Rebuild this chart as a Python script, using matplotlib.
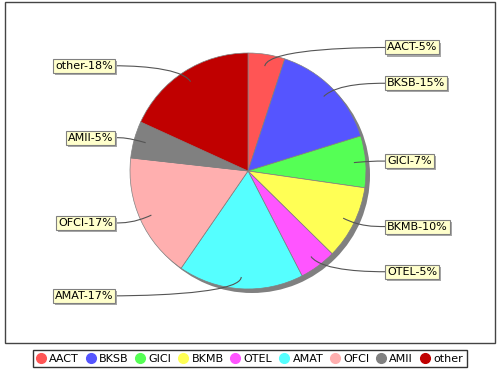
import numpy as np
import matplotlib.pyplot as plt
import matplotlib.patheffects as pe
from matplotlib.path import Path
from matplotlib.patches import PathPatch, Rectangle
from matplotlib.lines import Line2D

names = ["AACT", "BKSB", "GICI", "BKMB", "OTEL", "AMAT", "OFCI", "AMII", "other"]
shares = [5, 15, 7, 10, 5, 17, 17, 5, 18]
colors = ["#FF5555", "#5555FF", "#55FF55", "#FFFF55", "#FF55FF",
          "#55FFFF", "#FFAFAF", "#808080", "#C00000"]

W, H = 500, 370
cx, cy, r = 248, H - 171, 118

fig = plt.figure(figsize=(W / 100, H / 100), dpi=100)
ax = fig.add_axes([0, 0, 1, 1])

# plot border
ax.add_patch(Rectangle((5, H - 343), 490, 341, fill=False, ec="#444444", lw=1))

# shadow, then the pie itself
ax.pie([1], colors=["#808080"], center=(cx + 4, cy - 4), radius=r,
       wedgeprops=dict(linewidth=0, zorder=1))
ax.pie(shares, colors=colors, startangle=90, counterclock=False,
       center=(cx, cy), radius=r,
       wedgeprops=dict(edgecolor="#808080", linewidth=0.5, zorder=2))

total = float(sum(shares))
cum = np.cumsum([0] + shares)[:-1]
for name, v, c0 in zip(names, shares, cum):
    mid = np.radians(90 - 360 * (c0 + v / 2) / total)
    ca, sa = np.cos(mid), np.sin(mid)
    ty = cy + 1.06 * r * sa
    right = ca > 0
    edge = 385 if right else 115
    anchor_x = cx + 125 if right else cx - 125
    elbow = (cx + 125 * ca, cy + 125 * sa)
    link = (cx + 0.9 * r * ca, cy + 0.9 * r * sa)
    path = Path([(edge, ty), (anchor_x, ty), elbow, link],
                [Path.MOVETO, Path.CURVE4, Path.CURVE4, Path.CURVE4])
    ax.add_patch(PathPatch(path, fill=False, ec="#555555", lw=0.8, zorder=3))

    label = f"{name}-{round(100 * v / total)}%"
    tx = edge + 2 if right else edge - 2
    t = ax.text(tx, ty, label, ha="left" if right else "right", va="center",
                fontsize=8, color="black", zorder=5,
                bbox=dict(boxstyle="square,pad=0.18", fc="#FFFFCC", ec="#808080", lw=0.8))
    t.get_bbox_patch().set_path_effects([
        pe.SimplePatchShadow(offset=(1.5, -1.5), shadow_rgbFace="#A8A8A8", alpha=1),
        pe.Normal()])

ax.set_aspect("auto")
ax.set_xlim(0, W)
ax.set_ylim(0, H)
ax.axis("off")

handles = [Line2D([], [], marker="o", ls="none", color=c, markersize=7) for c in colors]
leg = fig.legend(handles, names, loc="center", bbox_to_anchor=(250 / W, 1 - 358.5 / H),
                 ncol=len(names), fontsize=8, frameon=True, fancybox=False,
                 handlelength=0.7, handletextpad=0.4, columnspacing=0.7,
                 borderpad=0.35, borderaxespad=0)
leg.get_frame().set_edgecolor("black")
leg.get_frame().set_linewidth(1)

fig.savefig("out.png", dpi=100)
